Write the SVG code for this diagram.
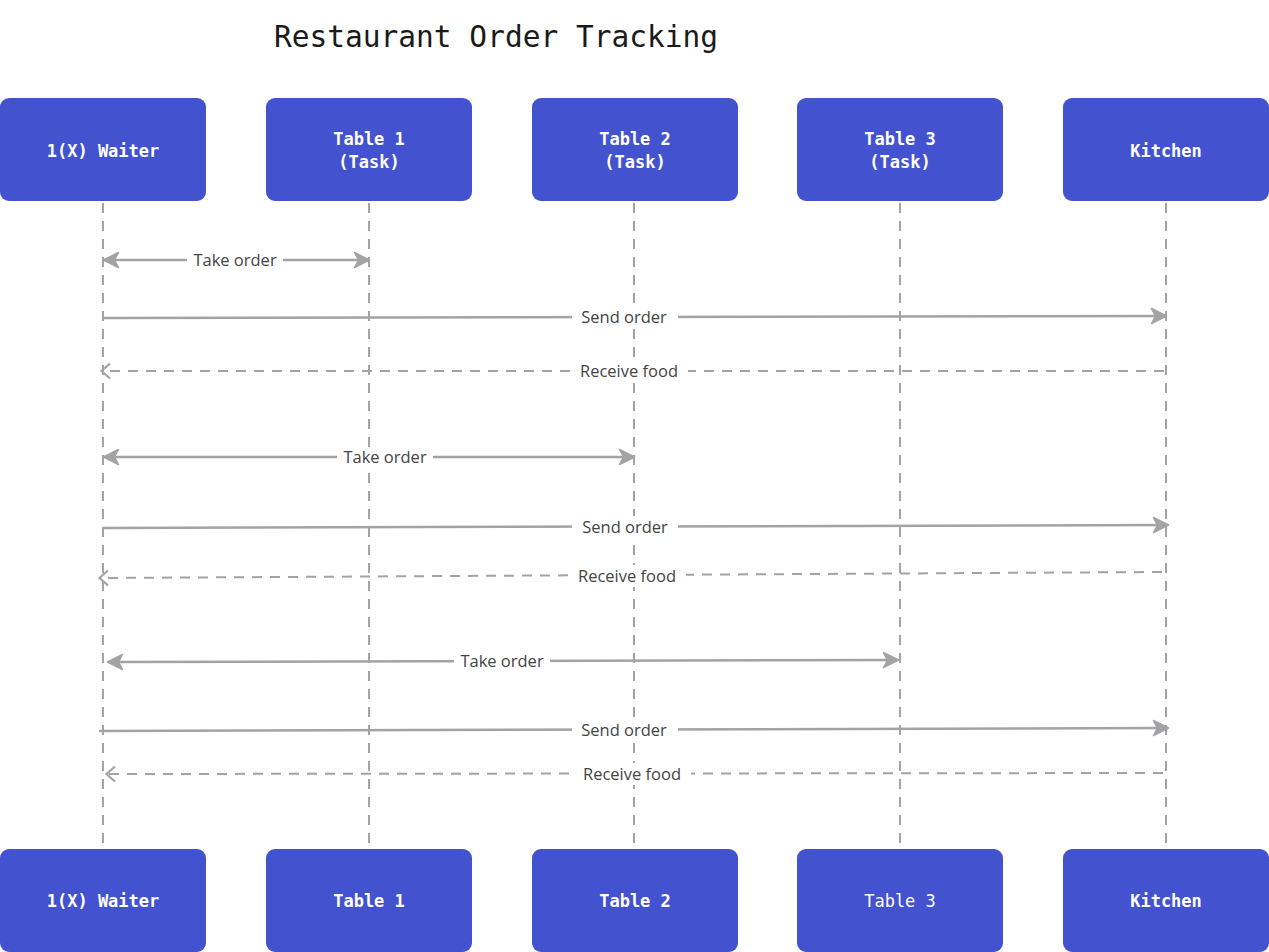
<svg xmlns="http://www.w3.org/2000/svg" width="1269" height="952" viewBox="0 0 1269 952">
<style>
.node rect{fill:#4353cf;}
.nt{font-family:"DejaVu Sans Mono","Liberation Mono",monospace;font-size:17px;font-weight:bold;fill:#ffffff;text-anchor:middle;}
.ntn{font-family:"DejaVu Sans Mono","Liberation Mono",monospace;font-size:17px;fill:#ffffff;text-anchor:middle;}
.title{font-family:"DejaVu Sans Mono","Liberation Mono",monospace;font-size:29.5px;fill:#1a1a1a;}
.life{stroke:#a3a3a6;stroke-width:2;stroke-dasharray:10 8;fill:none;}
.msg{stroke:#a3a3a6;stroke-width:2.5;fill:none;}
.ret{stroke:#a3a3a6;stroke-width:2;stroke-dasharray:10 8;fill:none;}
.lbl{font-family:"Open Sans","Noto Sans",sans-serif;font-size:16.5px;fill:#444444;text-anchor:middle;}
.bg{fill:#ffffff;}
</style>
<defs>
<marker id="af" viewBox="0 0 18 18" refX="16" refY="9" markerWidth="18" markerHeight="18" markerUnits="userSpaceOnUse" orient="auto-start-reverse">
<path d="M1.5,1.5 L16.5,9 L1.5,16.5 L5.5,9 Z" fill="#a3a3a6" stroke="#a3a3a6" stroke-width="1.5" stroke-linejoin="round"/>
</marker>
<marker id="ao" viewBox="0 0 20 20" refX="17" refY="10" markerWidth="20" markerHeight="20" markerUnits="userSpaceOnUse" orient="auto-start-reverse">
<path d="M8,2.5 L16.5,10 L8,17.5" fill="none" stroke="#a3a3a6" stroke-width="2.2"/>
</marker>
</defs>
<rect width="1269" height="952" fill="#ffffff"/>
<text class="title" x="274" y="47">Restaurant Order Tracking</text>
<g id="lifelines">
<line class="life" x1="103" y1="203" x2="103" y2="849"/>
<line class="life" x1="369" y1="203" x2="369" y2="849"/>
<line class="life" x1="634" y1="203" x2="634" y2="849"/>
<line class="life" x1="900" y1="203" x2="900" y2="849"/>
<line class="life" x1="1166" y1="203" x2="1166" y2="849"/>
</g>
<g id="n-waiter" class="node"><rect x="0" y="98" width="206" height="103" rx="9"/><text class="nt" x="103" y="157">1(X) Waiter</text></g>
<g id="n-table1" class="node"><rect x="266" y="98" width="206" height="103" rx="9"/><text class="nt" x="369" y="145">Table 1</text><text class="nt" x="369" y="168">(Task)</text></g>
<g id="n-table2" class="node"><rect x="532" y="98" width="206" height="103" rx="9"/><text class="nt" x="635" y="145">Table 2</text><text class="nt" x="635" y="168">(Task)</text></g>
<g id="n-table3" class="node"><rect x="797" y="98" width="206" height="103" rx="9"/><text class="nt" x="900" y="145">Table 3</text><text class="nt" x="900" y="168">(Task)</text></g>
<g id="n-kitchen" class="node"><rect x="1063" y="98" width="206" height="103" rx="9"/><text class="nt" x="1166" y="157">Kitchen</text></g>
<g id="b-waiter" class="node"><rect x="0" y="849" width="206" height="103" rx="9"/><text class="nt" x="103" y="907">1(X) Waiter</text></g>
<g id="b-table1" class="node"><rect x="266" y="849" width="206" height="103" rx="9"/><text class="nt" x="369" y="907">Table 1</text></g>
<g id="b-table2" class="node"><rect x="532" y="849" width="206" height="103" rx="9"/><text class="nt" x="635" y="907">Table 2</text></g>
<g id="b-table3" class="node"><rect x="797" y="849" width="206" height="103" rx="9"/><text class="ntn" x="900" y="907">Table 3</text></g>
<g id="b-kitchen" class="node"><rect x="1063" y="849" width="206" height="103" rx="9"/><text class="nt" x="1166" y="907">Kitchen</text></g>
<g id="connectors">
<line class="msg" x1="104" y1="260" x2="369" y2="260" marker-start="url(#af)" marker-end="url(#af)"/>
<rect class="bg" x="187" y="250" width="96" height="20"/><text class="lbl" x="235" y="266">Take order</text>
<line class="msg" x1="103" y1="318" x2="1166" y2="316" marker-end="url(#af)"/>
<rect class="bg" x="572" y="306" width="106" height="22"/><text class="lbl" x="624" y="323">Send order</text>
<line class="ret" x1="1164" y1="371" x2="101" y2="371" marker-end="url(#ao)"/>
<rect class="bg" x="572" y="360" width="116" height="22"/><text class="lbl" x="629" y="377">Receive food</text>
<line class="msg" x1="104" y1="457" x2="634" y2="457" marker-start="url(#af)" marker-end="url(#af)"/>
<rect class="bg" x="337" y="447" width="96" height="20"/><text class="lbl" x="385" y="463">Take order</text>
<line class="msg" x1="103" y1="528" x2="1168" y2="525" marker-end="url(#af)"/>
<rect class="bg" x="572" y="516" width="106" height="22"/><text class="lbl" x="625" y="533">Send order</text>
<line class="ret" x1="1162" y1="572" x2="99" y2="578" marker-end="url(#ao)"/>
<rect class="bg" x="570" y="565" width="116" height="22"/><text class="lbl" x="627" y="582">Receive food</text>
<line class="msg" x1="108" y1="662" x2="898" y2="660" marker-start="url(#af)" marker-end="url(#af)"/>
<rect class="bg" x="454" y="651" width="96" height="20"/><text class="lbl" x="502" y="667">Take order</text>
<line class="msg" x1="99" y1="731" x2="1168" y2="728" marker-end="url(#af)"/>
<rect class="bg" x="572" y="719" width="106" height="22"/><text class="lbl" x="624" y="736">Send order</text>
<line class="ret" x1="1163" y1="773" x2="106" y2="774" marker-end="url(#ao)"/>
<rect class="bg" x="575" y="763" width="116" height="22"/><text class="lbl" x="632" y="780">Receive food</text>
</g>
</svg>
